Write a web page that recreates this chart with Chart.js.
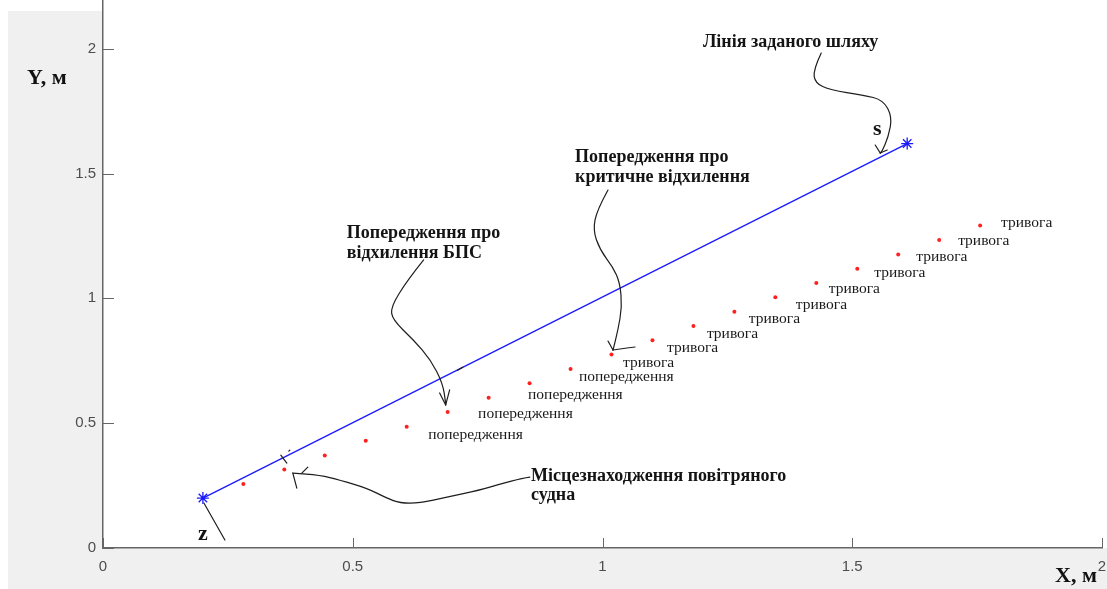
<!DOCTYPE html>
<html>
<head>
<meta charset="utf-8">
<script src="https://cdn.jsdelivr.net/npm/chart.js@4/dist/chart.umd.min.js"></script>
<style>
  html, body { margin: 0; padding: 0; background: #ffffff; }
  #wrap { width: 1107px; height: 589px; }
</style>
</head>
<body>
<div id="wrap"><canvas id="c" width="1107" height="589"></canvas></div>
<script>
// Tick values of both axes
const xTicks = [0, 0.5, 1, 1.5, 2];
const yTicks = [0, 0.5, 1, 1.5, 2];

// Desired path: start and end points (m)
const pathX = [0.2, 1.61];
const pathY = [0.2, 1.62];

// Recorded aircraft positions (m)
const craftX = [0.281, 0.363, 0.444, 0.526, 0.608, 0.690, 0.772, 0.854, 0.936, 1.018,
                1.100, 1.182, 1.264, 1.346, 1.428, 1.510, 1.592, 1.674, 1.756];
const craftY = [0.256, 0.314, 0.371, 0.430, 0.486, 0.545, 0.602, 0.660, 0.717, 0.775,
                0.832, 0.889, 0.946, 1.004, 1.061, 1.119, 1.176, 1.234, 1.292];

// Status labels written next to the track (data coordinates of each label's left/middle)
const statusText = ['попередження', 'попередження', 'попередження', 'попередження',
                    'тривога', 'тривога', 'тривога', 'тривога', 'тривога',
                    'тривога', 'тривога', 'тривога', 'тривога', 'тривога'];
const statusX = [0.651, 0.751, 0.851, 0.953, 1.041, 1.129, 1.209, 1.293, 1.387,
                 1.453, 1.544, 1.628, 1.712, 1.798];
const statusY = [0.453, 0.537, 0.613, 0.685, 0.741, 0.801, 0.857, 0.917, 0.973,
                 1.037, 1.101, 1.165, 1.229, 1.302];

// Callout captions (data coordinates of the left edge / middle of each line)
const captionText = ['Лінія заданого шляху',
                     'Попередження про', 'критичне відхилення',
                     'Попередження про', 'відхилення БПС',
                     'Місцезнаходження повітряного', 'судна'];
const captionX = [1.201, 0.945, 0.945, 0.488, 0.488, 0.857, 0.857];
const captionY = [2.026, 1.566, 1.486, 1.262, 1.181, 0.288, 0.212];

// Point letters s and z (centre)
const letterText = ['s', 'z'];
const letterX = [1.550, 0.200];
const letterY = [1.678, 0.056];

// Hand-drawn callout arrows: tip in data coordinates, stroke shape in pixels relative to the tip
const arrowTipX = [1.556, 1.021, 0.686, 0.380];
const arrowTipY = [1.582, 0.793, 0.573, 0.300];
const arrowShape = [
  { path: [[-59,-100],[-67,-83],[-65,-70],[-50,-63],[-17,-58],[3,-53],[12,-36],[8,-16],[2,-2],[0,0]],
    extra: [[[-5,-8],[0,0]], [[7,-3],[0,0]]] },
  { path: [[-5,-160],[-16,-140],[-20,-120],[-13,-100],[0,-83],[7,-67],[9,-43],[5,-20],[0,0]],
    extra: [[[-5,-9],[0,0]], [[0,0],[14,-2],[22,-3]]] },
  { path: [[-22,-145],[-38,-125],[-55,-98],[-53,-85],[-32,-65],[-15,-45],[-3,-22],[0,-2],[0,0]],
    extra: [[[-6,-12],[0,0]], [[4,-15],[0,0]]] },
  { path: [[237,4],[230,5],[207,11],[187,17],[154,24],[127,30],[107,30],[94,25],[74,15],[47,7],[27,2],[0,0]],
    extra: [[[0,0],[4,15]], [[9,0],[15,-6]]] }
];

const paperGrey = '#f0f0f0';
const axisGrey = '#666666';
const tickFont = { family: "'Liberation Sans', Arial, sans-serif", size: 15 };

function px(chart, x, y) {
  return [chart.scales.x.getPixelForValue(x), chart.scales.y.getPixelForValue(y)];
}

const paperPlugin = {
  id: 'paper',
  beforeDraw(chart) {
    const { ctx, chartArea: a } = chart;
    ctx.save();
    ctx.fillStyle = '#ffffff';
    ctx.fillRect(0, 0, chart.width, chart.height);
    ctx.fillStyle = paperGrey;
    ctx.fillRect(8, 11, chart.width - 8, chart.height - 11);
    ctx.fillStyle = '#ffffff';
    ctx.fillRect(a.left, 0, chart.width - a.left, a.bottom);
    ctx.restore();
  }
};

function smoothStroke(ctx, pts) {
  ctx.beginPath();
  ctx.moveTo(pts[0][0], pts[0][1]);
  for (let i = 1; i < pts.length - 1; i++) {
    const mx = (pts[i][0] + pts[i + 1][0]) / 2, my = (pts[i][1] + pts[i + 1][1]) / 2;
    ctx.quadraticCurveTo(pts[i][0], pts[i][1], mx, my);
  }
  const last = pts[pts.length - 1];
  ctx.lineTo(last[0], last[1]);
  ctx.stroke();
}

function polyStroke(ctx, pts) {
  ctx.beginPath();
  ctx.moveTo(pts[0][0], pts[0][1]);
  for (let i = 1; i < pts.length; i++) ctx.lineTo(pts[i][0], pts[i][1]);
  ctx.stroke();
}

const notesPlugin = {
  id: 'notes',
  afterDraw(chart) {
    const { ctx, chartArea: a } = chart;
    const xs = chart.scales.x, ys = chart.scales.y;
    ctx.save();

    // inward tick marks
    ctx.strokeStyle = axisGrey;
    ctx.lineWidth = 1;
    xs.ticks.forEach(t => {
      const p = Math.round(xs.getPixelForValue(t.value)) + 0.5;
      ctx.beginPath(); ctx.moveTo(p, a.bottom); ctx.lineTo(p, a.bottom - 10); ctx.stroke();
    });
    ys.ticks.forEach(t => {
      const p = Math.round(ys.getPixelForValue(t.value)) + 0.5;
      ctx.beginPath(); ctx.moveTo(a.left, p); ctx.lineTo(a.left + 11, p); ctx.stroke();
    });

    // axis titles
    ctx.fillStyle = '#111111';
    ctx.font = "bold 22px 'Liberation Serif', 'Times New Roman', serif";
    ctx.textBaseline = 'middle';
    ctx.textAlign = 'left';
    ctx.fillText('Y, м', 27, 78);
    ctx.fillText('X, м', 1055, 576);

    // status labels along the track
    ctx.font = "15.5px 'Liberation Serif', 'Times New Roman', serif";
    ctx.fillStyle = '#1a1a1a';
    statusText.forEach((s, i) => {
      const [x, y] = px(chart, statusX[i], statusY[i]);
      ctx.fillText(s, x, y);
    });

    // callout captions
    ctx.font = "bold 18px 'Liberation Serif', 'Times New Roman', serif";
    ctx.fillStyle = '#141414';
    captionText.forEach((s, i) => {
      const [x, y] = px(chart, captionX[i], captionY[i]);
      ctx.fillText(s, x, y);
    });

    // point letters
    ctx.font = "bold 22px 'Liberation Serif', 'Times New Roman', serif";
    ctx.textAlign = 'center';
    letterText.forEach((s, i) => {
      const [x, y] = px(chart, letterX[i], letterY[i]);
      ctx.fillText(s, x, y);
    });

    // callout arrows
    ctx.strokeStyle = '#1e1e1e';
    ctx.lineWidth = 1.2;
    ctx.lineJoin = 'round';
    ctx.lineCap = 'round';
    arrowShape.forEach((shape, i) => {
      const [tx, ty] = px(chart, arrowTipX[i], arrowTipY[i]);
      smoothStroke(ctx, shape.path.map(p => [tx + p[0], ty + p[1]]));
      shape.extra.forEach(seg => polyStroke(ctx, seg.map(p => [tx + p[0], ty + p[1]])));
    });

    // leader from the start point to the letter z
    const [sx, sy] = px(chart, pathX[0], pathY[0]);
    polyStroke(ctx, [[sx + 1, sy + 5], [sx + 22, sy + 42]]);

    // small pen marks on the path line
    const [mx, my] = px(chart, 0.362, 0.36);
    polyStroke(ctx, [[mx - 3, my - 3], [mx + 3, my + 5]]);
    polyStroke(ctx, [[mx + 5, my - 7], [mx + 6, my - 8]]);
    const [nx, ny] = px(chart, 0.716, 0.72);
    polyStroke(ctx, [[nx - 3, ny + 2], [nx + 2, ny - 1]]);

    ctx.restore();
  }
};

const pathPoints = pathX.map((x, i) => ({ x, y: pathY[i] }));
const craftPoints = craftX.map((x, i) => ({ x, y: craftY[i] }));

new Chart(document.getElementById('c'), {
  type: 'scatter',
  data: {
    datasets: [
      {
        label: 'path',
        type: 'line',
        data: pathPoints,
        borderColor: '#1a1aff',
        borderWidth: 1.3,
        pointStyle: 'star',
        pointRadius: 6,
        pointBorderColor: '#1a1aff',
        pointBorderWidth: 1.3,
        pointBackgroundColor: '#1a1aff',
        fill: false,
        tension: 0
      },
      {
        label: 'craft',
        data: craftPoints,
        pointRadius: 2,
        pointBackgroundColor: '#ff2020',
        pointBorderWidth: 0
      }
    ]
  },
  options: {
    responsive: false,
    animation: false,
    devicePixelRatio: 1,
    layout: { autoPadding: false, padding: { left: 0, right: 5, top: 0, bottom: 0 } },
    plugins: { legend: { display: false }, tooltip: { enabled: false } },
    scales: {
      x: {
        type: 'linear',
        min: 0, max: 2,
        afterBuildTicks: s => { s.ticks = xTicks.map(v => ({ value: v })); },
        afterFit: s => { s.height = 41; s.paddingLeft = 0; s.paddingRight = 0; },
        grid: { display: false, drawTicks: false },
        border: { display: true, color: axisGrey, width: 1.5 },
        ticks: { font: tickFont, color: '#4d4d4d', padding: 10, maxRotation: 0,
                 callback: v => String(v) }
      },
      y: {
        type: 'linear',
        min: 0, max: 2.195,
        afterBuildTicks: s => { s.ticks = yTicks.map(v => ({ value: v })); },
        afterFit: s => { s.width = 103; s.paddingTop = 0; s.paddingBottom = 0; },
        grid: { display: false, drawTicks: false },
        border: { display: true, color: axisGrey, width: 1.5 },
        ticks: { font: tickFont, color: '#4d4d4d', padding: 7,
                 callback: v => String(v) }
      }
    }
  },
  plugins: [paperPlugin, notesPlugin]
});
</script>
</body>
</html>
